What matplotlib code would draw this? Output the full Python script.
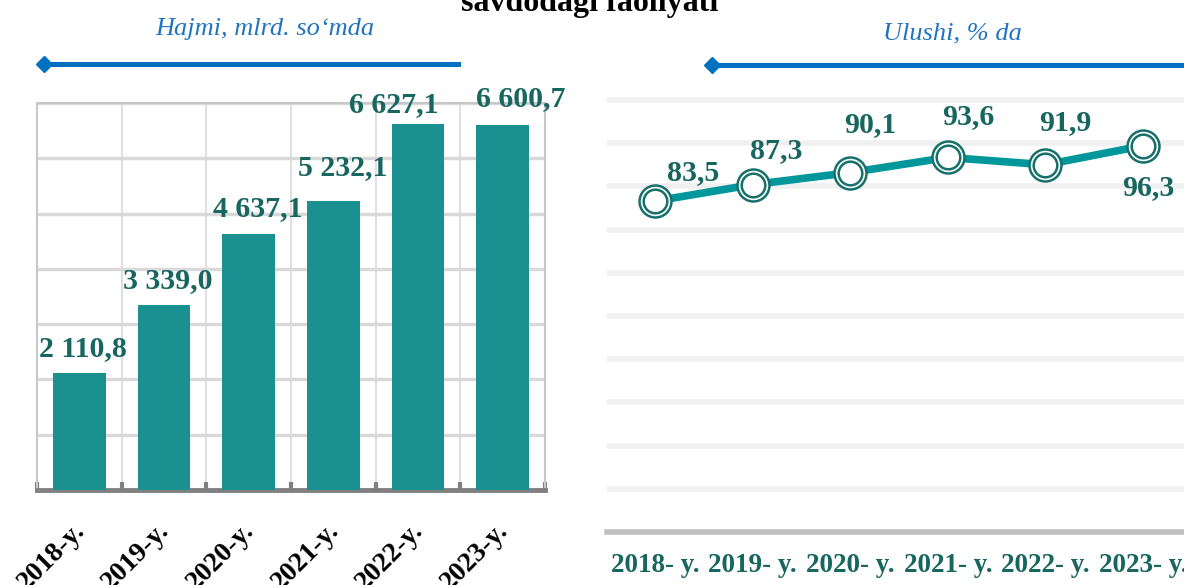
import numpy as np
import matplotlib.pyplot as plt
from matplotlib.lines import Line2D

plt.rcParams['font.family'] = ['Liberation Serif', 'DejaVu Serif']

years = ['2018', '2019', '2020', '2021', '2022', '2023']
volume = [2110.8, 3339.0, 4637.1, 5232.1, 6627.1, 6600.7]
volume_labels = ['2 110,8', '3 339,0', '4 637,1', '5 232,1', '6 627,1', '6 600,7']
share = [83.5, 87.3, 90.1, 93.6, 91.9, 96.3]
share_labels = ['83,5', '87,3', '90,1', '93,6', '91,9', '96,3']

W, H = 1184, 585
teal_bar = '#1a9190'
teal_line = '#00979c'
teal_text = '#17665f'
blue = '#0070c0'


def box(l, t, r, b):
    # pixel box -> figure fraction rect
    return [l / W, 1 - b / H, (r - l) / W, (b - t) / H]


fig = plt.figure(figsize=(W / 100, H / 100), dpi=100)

# title, cut off at the top like the source
fig.text(589.5 / W, 1 - 11 / H, 'savdodagi faoliyati', ha='center', va='baseline',
         fontsize=23, fontweight='bold', color='black')

# subtitles + blue rules
fig.text(265 / W, 1 - 29 / H, 'Hajmi, mlrd. so‘mda', ha='center', va='center',
         fontsize=19, style='italic', color='#1f74c2')
fig.text(952 / W, 1 - 33 / H, 'Ulushi, % da', ha='center', va='center',
         fontsize=19, style='italic', color='#1f74c2')
for x0, x1, yy in [(44, 458, 64), (712, 1190, 65)]:
    fig.add_artist(Line2D([x0 / W, x1 / W], [1 - yy / H] * 2, color=blue, lw=3.6,
                          transform=fig.transFigure))
    fig.add_artist(Line2D([x0 / W], [1 - yy / H], marker='D', ms=8, color=blue,
                          transform=fig.transFigure))

# ---- left: bars ----
ax1 = fig.add_axes(box(37, 103, 545, 490))
x = np.arange(len(years))
ax1.bar(x, volume, width=0.62, color=teal_bar, zorder=3)
ax1.set_xlim(-0.5, 5.5)
ax1.set_ylim(0, 7000)
ax1.set_yticks(np.arange(1000, 7001, 1000))
ax1.tick_params(axis='y', length=0, labelleft=False)
ax1.set_xticks(x)
ax1.tick_params(axis='x', which='major', length=0, labelbottom=False)
ax1.set_xticks(np.arange(-0.5, 5.6, 1), minor=True)
ax1.tick_params(axis='x', which='minor', direction='in', length=6, width=3, color='#808080')
ax1.grid(axis='y', color='#d9d9d9', lw=2.5, zorder=0)
ax1.xaxis.grid(True, which='minor', color='#d9d9d9', lw=1.2, zorder=0)
for s in ['left', 'right', 'top']:
    ax1.spines[s].set_color('#c8c8c8')
    ax1.spines[s].set_linewidth(1.5)
ax1.spines['bottom'].set_color('#808080')
ax1.spines['bottom'].set_linewidth(3.5)

# rotated category labels
for xi, y in zip(x, years):
    ax1.annotate(y + '-y.', (xi, 0), xycoords=('data', 'axes fraction'),
                 xytext=(-7, -28), textcoords='offset pixels', rotation=45,
                 ha='right', va='top', rotation_mode='anchor', fontsize=20,
                 fontweight='bold', color='black', annotation_clip=False)

vol_offsets = [(4, 25), (4, 25), (9, 25), (9, 33), (-24, 19), (18, 27)]
for xi, v, lab, off in zip(x, volume, volume_labels, vol_offsets):
    ax1.annotate(lab, (xi, v), xytext=off, textcoords='offset pixels',
                 ha='center', va='center', fontsize=21.5, fontweight='bold',
                 color=teal_text, zorder=5, annotation_clip=False)

# ---- right: share line ----
ax2 = fig.add_axes(box(607, 95, 1241, 532))
ax2.set_xlim(-0.492, 6.004)
ax2.set_ylim(6.9, 108.05)
ax2.set_yticks(np.arange(1, 11) * 10 + 6.9)
ax2.tick_params(axis='y', length=0, labelleft=False)
ax2.set_xticks(x)
ax2.set_xticklabels([y + '- y.' for y in years], fontsize=19.5, fontweight='bold',
                    color=teal_text)
ax2.tick_params(axis='x', length=0, pad=15)
ax2.grid(axis='y', color='#f0f0f0', lw=4, zorder=0)
for s in ['left', 'right', 'top']:
    ax2.spines[s].set_visible(False)
ax2.spines['bottom'].set_color('#bfbfbf')
ax2.spines['bottom'].set_linewidth(4)

ax2.plot(x, share, color=teal_line, lw=5.5, zorder=3)
ax2.plot(x, share, 'o', ms=23, mfc='white', mec='#17706b', mew=1.8, zorder=4)
ax2.plot(x, share, 'o', ms=17, mfc='white', mec='#17706b', mew=1.8, zorder=5)

share_offsets = [(38, 29), (24, 34), (20, 48), (20, 41), (20, 42), (5, -42)]
for xi, v, lab, off in zip(x, share, share_labels, share_offsets):
    ax2.annotate(lab, (xi, v), xytext=off, textcoords='offset pixels',
                 ha='center', va='center', fontsize=21.5, fontweight='bold',
                 color=teal_text, zorder=6, annotation_clip=False)

fig.savefig('out.png', dpi=100)
